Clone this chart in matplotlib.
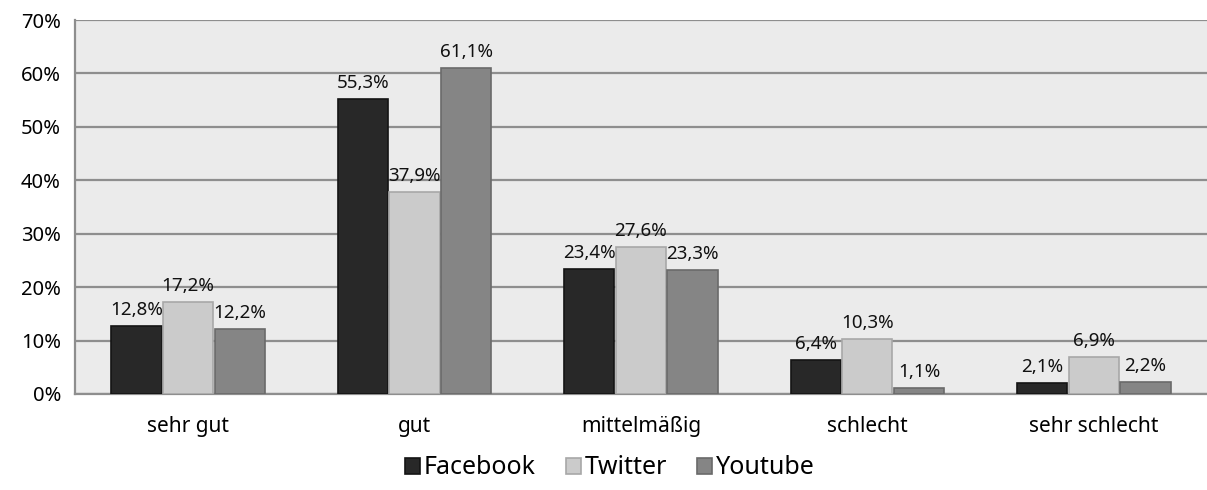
import numpy as np
import matplotlib.pyplot as plt

# Bewertung der Plattformen
categories = ["sehr gut", "gut", "mittelmäßig", "schlecht", "sehr schlecht"]
facebook = [12.8, 55.3, 23.4, 6.4, 2.1]
twitter = [17.2, 37.9, 27.6, 10.3, 6.9]
youtube = [12.2, 61.1, 23.3, 1.1, 2.2]
series = ["Facebook", "Twitter", "Youtube"]
colors = ["#282828", "#cbcbcb", "#858585"]
edges = ["#141414", "#a8a8a8", "#6a6a6a"]

plt.rcParams["font.family"] = ["Noto Sans", "DejaVu Sans"]

fig = plt.figure(figsize=(12.07, 4.9), dpi=100)
ax = fig.add_axes([0.062, 0.196, 0.938, 0.763])
ax.set_facecolor("#ebebeb")

x = np.arange(len(categories))
w = 0.222
for i, (vals, name) in enumerate(zip([facebook, twitter, youtube], series)):
    pos = x + (i - 1) * (w + 0.006)
    bars = ax.bar(pos, vals, width=w, color=colors[i], edgecolor=edges[i],
                  linewidth=1.2, label=name, zorder=3)
    for b, v in zip(bars, vals):
        ax.annotate(f"{v:.1f}%".replace(".", ","),
                    (b.get_x() + b.get_width() / 2, v),
                    xytext=(0, 5), textcoords="offset points",
                    ha="center", va="bottom", fontsize=13.5, color="#111111")

ax.set_ylim(0, 70)
ax.set_xlim(-0.5, len(categories) - 0.5)
ax.set_yticks(np.arange(0, 71, 10))
ax.set_yticklabels([f"{t}%" for t in range(0, 71, 10)], fontsize=14.5)
ax.set_xticks(x)
ax.set_xticklabels(categories, fontsize=15)
ax.tick_params(length=0, pad=10)
ax.tick_params(axis="x", pad=16)
ax.grid(axis="y", color="#8e8e8e", linewidth=1.6, zorder=1)
for s in ["top", "right"]:
    ax.spines[s].set_visible(False)
ax.spines["left"].set_color("#8e8e8e")
ax.spines["left"].set_linewidth(1.6)
ax.spines["bottom"].set_color("#8e8e8e")
ax.spines["bottom"].set_linewidth(1.6)

fig.legend(loc="center", bbox_to_anchor=(0.505, 0.045), ncol=3, frameon=False,
           fontsize=18, handlelength=0.6, handleheight=0.6, handletextpad=0.15,
           columnspacing=1.2)

fig.savefig("out.png", dpi=100)
